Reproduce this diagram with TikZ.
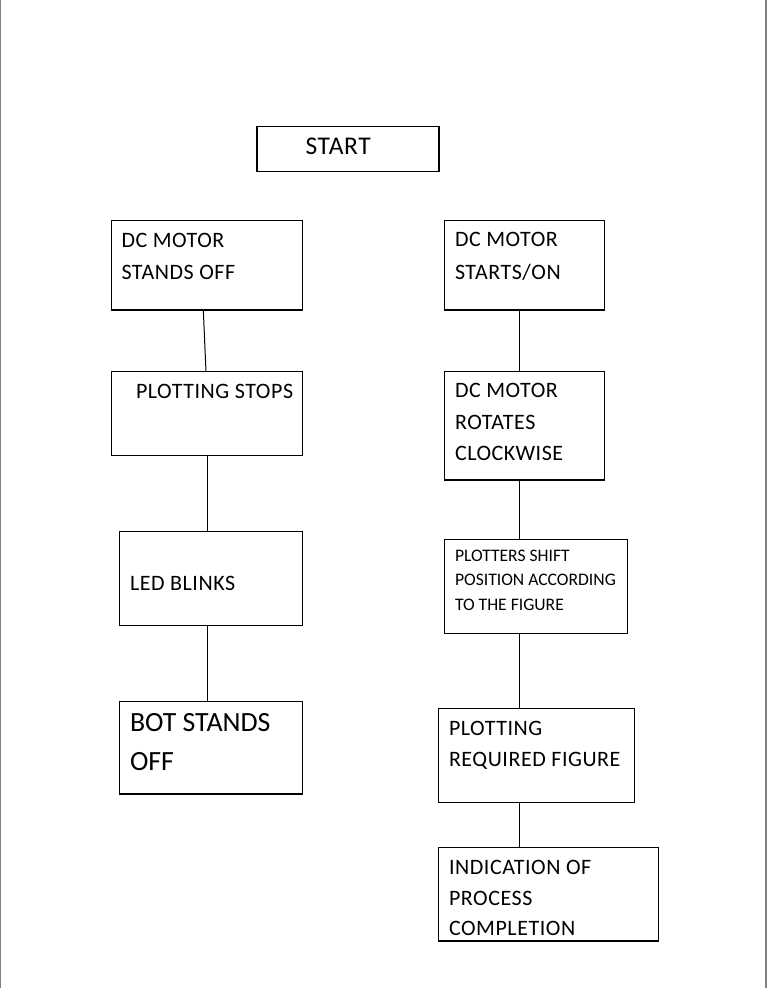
\documentclass[tikz,border=0pt]{standalone}
\usepackage{fontspec}
\setmainfont{Carlito}
\newfontfamily\widecal[LetterSpace=2.5]{Carlito}
\begin{document}
\begin{tikzpicture}[x=1pt,y=-1pt,
  box/.style={draw=black,line width=1.2pt,inner sep=0pt,outer sep=0pt,rectangle},
  link/.style={draw=black,line width=1pt},
  side/.style={draw=black!50,line width=1.2pt},
  txt/.style={anchor=base west,inner sep=0pt,outer sep=0pt,font=\widecal\fontsize{22}{26}\selectfont},
  smalltxt/.style={anchor=base west,inner sep=0pt,outer sep=0pt,font=\fontsize{17.6}{21}\selectfont},
  bigtxt/.style={anchor=base west,inner sep=0pt,outer sep=0pt,font=\fontsize{27.8}{33}\selectfont},
  starttxt/.style={anchor=base west,inner sep=0pt,outer sep=0pt,font=\widecal\fontsize{25.5}{30}\selectfont}]
\useasboundingbox (0,0) rectangle (767,988);
\fill[white] (0,0) rectangle (767,988);
% page side lines
\coordinate (lt) at (0.6,0);
\coordinate (lb) at (0.6,988);
\coordinate (rt) at (766,0);
\coordinate (rb) at (766,988);
\draw[side] (lt) -- (lb);
\draw[side] (rt) -- (rb);
% boxes
\node[box,minimum width=182pt,minimum height=45pt] (start) at (348,149) {};
\node[box,minimum width=190.6pt,minimum height=89.3pt] (b1) at (207,265.35) {};
\node[box,minimum width=190.6pt,minimum height=83.6pt] (b2) at (207,413.5) {};
\node[box,minimum width=182.6pt,minimum height=93.6pt] (b3) at (211,578.5) {};
\node[box,minimum width=182.6pt,minimum height=92.3pt] (b4) at (211,747.85) {};
\node[box,minimum width=160pt,minimum height=89.7pt] (r1) at (524.3,265.2) {};
\node[box,minimum width=160pt,minimum height=108.3pt] (r2) at (524.3,425.85) {};
\node[box,minimum width=183pt,minimum height=94pt] (r3) at (535.8,586.3) {};
\node[box,minimum width=196pt,minimum height=94pt] (r4) at (536.3,755.3) {};
\node[box,minimum width=220pt,minimum height=93.7pt] (r5) at (548.3,894.15) {};
% texts
\node[starttxt] (tstart) at (305.5,154) {START};
\node[txt] (t1a) at (121.5,247) {DC MOTOR};
\node[txt] (t1b) at (121.5,279) {STANDS OFF};
\node[txt] (t2a) at (136,398.3) {PLOTTING STOPS};
\node[txt] (t3a) at (130,590) {LED BLINKS};
\node[bigtxt] (t4a) at (130,731.7) {BOT STANDS};
\node[bigtxt] (t4b) at (130,770) {OFF};
\node[txt] (r1a) at (455,246.7) {DC MOTOR};
\node[txt] (r1b) at (455,279) {STARTS/ON};
\node[txt] (r2a) at (455,397.7) {DC MOTOR};
\node[txt] (r2b) at (455,429.5) {ROTATES};
\node[txt] (r2c) at (455,460.7) {CLOCKWISE};
\node[smalltxt] (r3a) at (455,561.5) {PLOTTERS SHIFT};
\node[smalltxt] (r3b) at (455,585.5) {POSITION ACCORDING};
\node[smalltxt] (r3c) at (455,610) {TO THE FIGURE};
\node[txt] (r4a) at (449,735) {PLOTTING};
\node[txt] (r4b) at (449,766.7) {REQUIRED FIGURE};
\node[txt] (r5a) at (449,874) {INDICATION OF};
\node[txt] (r5b) at (449,905) {PROCESS};
\node[txt] (r5c) at (449,935.7) {COMPLETION};
% connectors
\draw[link] ([xshift=-3.7pt]b1.south) -- ([xshift=-1pt]b2.north);
\draw[link] (b2.south) -- (b2.south |- b3.north);
\draw[link] (b2.south |- b3.south) -- (b2.south |- b4.north);
\draw[link] ([xshift=-5pt]r1.south) -- ([xshift=-5pt]r1.south |- r2.north);
\draw[link] ([xshift=-5pt]r2.south) -- ([xshift=-5pt]r2.south |- r3.north);
\draw[link] ([xshift=-5pt]r2.south |- r3.south) -- ([xshift=-5pt]r2.south |- r4.north);
\draw[link] ([xshift=-5pt]r2.south |- r4.south) -- ([xshift=-5pt]r2.south |- r5.north);
\end{tikzpicture}
\end{document}
